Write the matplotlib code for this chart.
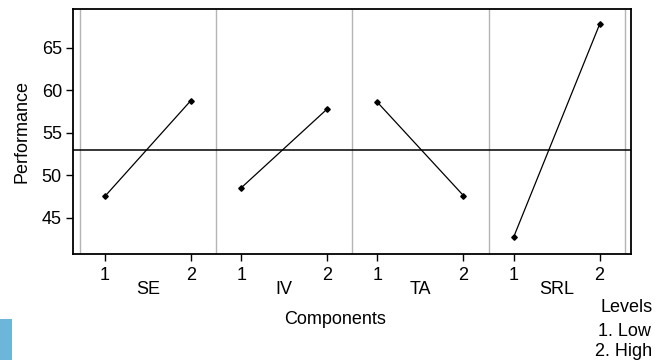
import matplotlib
matplotlib.use('Agg')
import matplotlib.pyplot as plt
import matplotlib.transforms as mtransforms
from matplotlib.patches import Rectangle

# data
components = ['SE', 'IV', 'TA', 'SRL']
levels = [1, 2]
perf_low = [47.5, 48.5, 58.6, 42.7]
perf_high = [58.8, 57.8, 47.6, 67.8]
grand_mean = 53.0
y_ticks = [45, 50, 55, 60, 65]

plt.rcParams['font.family'] = 'Liberation Sans'
plt.rcParams['font.size'] = 13

PANEL = 1.585   # width of one component panel in x units
OFFSET = 0.29   # gap between panel edge and level 1

fig = plt.figure(figsize=(6.55, 3.6), dpi=100)
ax = fig.add_axes([73 / 655, 1 - 254 / 360, (631 - 73) / 655, 245 / 360])

tick_pos, tick_lab = [], []
for k, name in enumerate(components):
    xs = [k * PANEL + OFFSET + (lv - 1) for lv in levels]
    ax.plot(xs, [perf_low[k], perf_high[k]], color='black', lw=0.9,
            marker='D', ms=2.8, zorder=3)
    tick_pos += xs
    tick_lab += [str(lv) for lv in levels]
    trans = mtransforms.blended_transform_factory(ax.transData, ax.transAxes)
    ax.text(sum(xs) / 2, -0.145, name, transform=trans,
            ha='center', va='center', fontsize=13)

# panel separators
for k in range(len(components) + 1):
    ax.axvline(k * PANEL, color='#b4b4b4', lw=1.0, zorder=1)

ax.axhline(grand_mean, color='black', lw=1.1, zorder=2)

ax.set_xlim(-0.081, len(components) * PANEL + 0.07)
ax.set_ylim(40.7, 69.6)
ax.set_xticks(tick_pos)
ax.set_xticklabels(tick_lab)
ax.set_yticks(y_ticks)
ax.tick_params(direction='out', length=5, width=1, labelsize=13)
ax.tick_params(axis='x', pad=4)
ax.tick_params(axis='y', pad=3)
ax.set_ylabel('Performance', fontsize=13, labelpad=8)
for s in ax.spines.values():
    s.set_linewidth(1.3)

fig.text(335 / 655, 1 - 320 / 360, 'Components', ha='center', va='center', fontsize=13)
fig.text(653 / 655, 1 - 307 / 360, 'Levels', ha='right', va='center', fontsize=13)
fig.text(651 / 655, 1 - 332 / 360, '1. Low', ha='right', va='center', fontsize=13)
fig.text(652 / 655, 1 - 351 / 360, '2. High', ha='right', va='center', fontsize=13)

# blue tab in the lower left corner
fig.patches.append(Rectangle((0, 0), 12 / 655, 41 / 360, transform=fig.transFigure,
                             facecolor='#6cb6d9', edgecolor='none'))

fig.savefig('out.png', dpi=100)
